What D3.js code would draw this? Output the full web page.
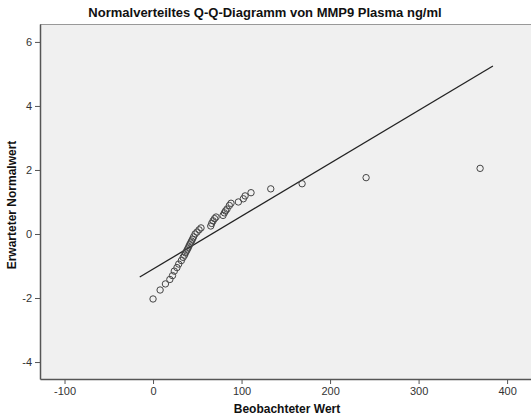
<!DOCTYPE html>
<html>
<head>
<meta charset="utf-8">
<script src="https://cdn.jsdelivr.net/npm/d3@7"></script>
<style>
  body { margin: 0; background: #fff; }
  svg { font-family: "Liberation Sans", Arial, sans-serif; }
  .axis text { font-size: 11px; fill: #333; }
  .axis path, .axis line { stroke: #555; }
</style>
</head>
<body>
<svg id="svg1" width="531" height="418"></svg>
<script>
// beobachtete Werte (ng/ml)
var observed = [0, 8, 14, 19, 22, 24, 27, 29, 32, 34,
  35.6, 36.7, 37.9, 39.0, 40.1, 41.2, 42.4, 43.5, 44.6, 45.8, 47.5, 49.7, 52.0, 54.2,
  65.2, 66.3, 67.8, 69.5, 71.2, 79.1, 80.6, 81.9, 83.6, 86.2, 88.1, 96.4, 102, 104, 110.7,
  133, 168.4, 240.7, 369.5];
// erwartete Normalwerte
var expected = [-2.03, -1.75, -1.56, -1.42, -1.30, -1.16, -1.05, -0.94, -0.83, -0.73,
  -0.66, -0.59, -0.53, -0.47, -0.41, -0.34, -0.28, -0.22, -0.16, -0.09, 0.0, 0.06, 0.13, 0.19,
  0.25, 0.33, 0.41, 0.48, 0.53, 0.58, 0.66, 0.72, 0.78, 0.89, 0.96, 1.0, 1.10, 1.19, 1.29,
  1.41, 1.57, 1.76, 2.05];
// reference line
var lineMean = 66.4;
var lineSd = 60.5;
var lineX = [-15, 384];

var xTicks = [-100, 0, 100, 200, 300, 400];
var yTicks = [-4, -2, 0, 2, 4, 6];

var svg = d3.select("#svg1");

var plotLeft = 40, plotRight = 531, plotTop = 24, plotBottom = 379;

var scaleX = d3.scaleLinear().domain([-127.7, 427]).range([plotLeft, plotRight]);
var scaleY = d3.scaleLinear().domain([-4.53, 6.56]).range([plotBottom, plotTop]);

var fmt = function(d) { return String(d); };

svg.append("rect")
    .attr("x", plotLeft).attr("y", plotTop)
    .attr("width", plotRight - plotLeft).attr("height", plotBottom - plotTop)
    .attr("fill", "#f0f0f0");

svg.append("line")
    .attr("x1", plotLeft).attr("x2", plotRight)
    .attr("y1", plotTop + 0.5).attr("y2", plotTop + 0.5)
    .attr("stroke", "#999");

svg.append("g")
    .attr("class", "axis")
    .attr("transform", "translate(" + plotLeft + ",0)")
    .call(d3.axisLeft(scaleY).tickValues(yTicks).tickFormat(fmt).tickSize(5).tickSizeOuter(0).tickPadding(3));

svg.append("g")
    .attr("class", "axis")
    .attr("transform", "translate(0," + plotBottom + ")")
    .call(d3.axisBottom(scaleX).tickValues(xTicks).tickFormat(fmt).tickSize(5).tickSizeOuter(0).tickPadding(3));

d3.selectAll(".axis .domain").attr("stroke-width", 1.5);

var data = observed.map(function(d, i) { return { x: d, y: expected[i] }; });

svg.append("line")
    .attr("x1", scaleX(lineX[0]))
    .attr("y1", scaleY((lineX[0] - lineMean) / lineSd))
    .attr("x2", scaleX(lineX[1]))
    .attr("y2", scaleY((lineX[1] - lineMean) / lineSd))
    .attr("stroke", "#222")
    .attr("stroke-width", 1.3);

svg.selectAll(".pt")
    .data(data)
    .enter()
    .append("circle")
    .attr("class", "pt")
    .attr("cx", function(d) { return scaleX(d.x); })
    .attr("cy", function(d) { return scaleY(d.y); })
    .attr("r", 3.2)
    .attr("fill", "none")
    .attr("stroke", "#444")
    .attr("stroke-width", 1);

svg.append("text")
    .attr("x", 265).attr("y", 17)
    .attr("text-anchor", "middle")
    .style("font-size", "13px").style("font-weight", "bold")
    .attr("fill", "#111")
    .text("Normalverteiltes Q-Q-Diagramm von MMP9 Plasma ng/ml");

svg.append("text")
    .attr("x", 287).attr("y", 413)
    .attr("text-anchor", "middle")
    .style("font-size", "12px").style("font-weight", "bold")
    .attr("fill", "#111")
    .text("Beobachteter Wert");

svg.append("text")
    .attr("transform", "translate(16,205) rotate(-90)")
    .attr("text-anchor", "middle")
    .style("font-size", "12px").style("font-weight", "bold")
    .attr("fill", "#111")
    .text("Erwarteter Normalwert");
</script>
</body>
</html>
